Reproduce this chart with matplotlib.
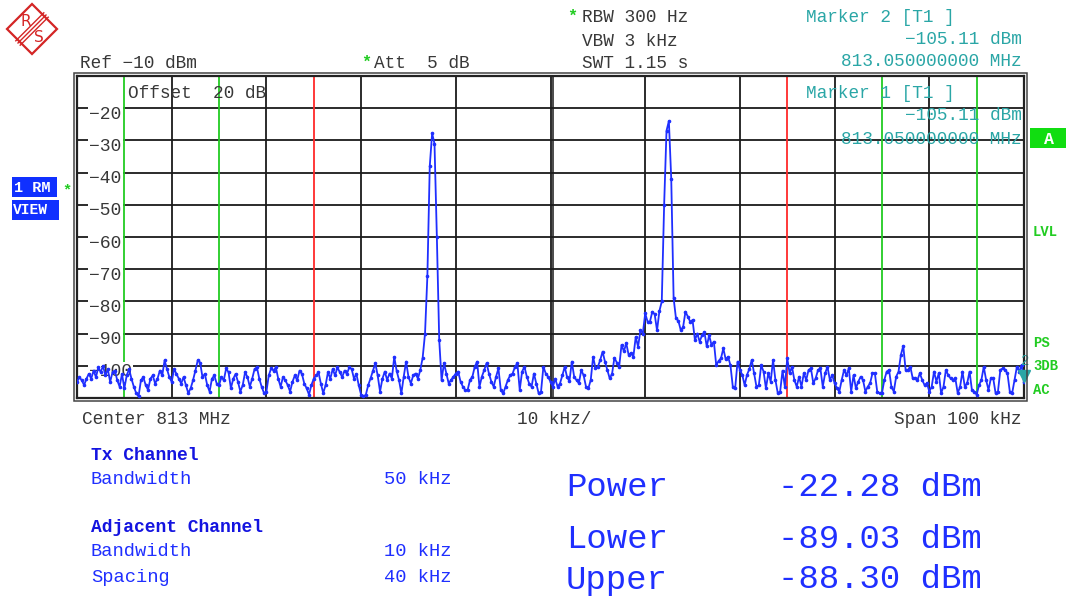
import numpy as np
import matplotlib
matplotlib.use("Agg")
import matplotlib.pyplot as plt
from matplotlib.patches import Rectangle, Polygon
import matplotlib.transforms as mtransforms

# ---------------- data ----------------
center_mhz = 813
span_khz = 100
ref_level_dbm = -10
bottom_level_dbm = -110
offset_db = 20
att_db = 5
rbw_hz = 300
vbw_khz = 3
swt_s = 1.15
tx_bw_khz = 50
adj_bw_khz = 10
adj_spacing_khz = 40
step_khz = 0.25

y_label_levels = [-20, -30, -40, -50, -60, -70, -80, -90, -100]

# trace levels (dBm), 0.25 kHz steps, one block per 10 kHz, block start in kHz offset
block_starts = [-50, -40, -30, -20, -10, 0, 10, 20, 30, 40]
trace_m50 = [-105.0, -103.5, -104.5, -106.0, -104.0, -102.5, -104.0, -101.5, -103.5, -100.5,
             -102.0, -100.0, -103.0, -101.0, -105.0, -102.0, -101.5, -104.5, -106.5, -102.5,
             -107.0, -103.0, -101.0, -104.0, -106.5, -108.5, -109.5, -104.5, -103.5, -106.0,
             -107.5, -104.0, -103.0, -105.5, -104.0, -101.5, -103.0, -98.3, -101.0, -103.5]
trace_m40 = [-105.0, -101.0, -102.5, -104.0, -105.5, -103.5, -106.0, -108.5, -107.0, -104.5,
             -101.5, -98.3, -99.0, -103.5, -102.5, -106.0, -108.0, -104.0, -103.0, -105.5,
             -106.0, -103.5, -104.5, -100.8, -102.0, -107.0, -104.0, -102.5, -105.0, -108.0,
             -106.0, -102.0, -103.5, -106.5, -104.0, -101.0, -100.5, -104.0, -106.5, -108.5]
trace_m30 = [-108.0, -103.0, -100.8, -101.5, -100.5, -104.0, -106.5, -103.5, -104.5, -106.0,
             -108.0, -105.0, -103.0, -104.5, -101.5, -102.5, -105.5, -107.0, -109.0, -106.0,
             -104.0, -103.0, -102.0, -105.5, -108.5, -106.0, -102.0, -104.0, -101.0, -103.0,
             -100.5, -102.0, -103.5, -101.5, -102.5, -100.5, -101.0, -104.0, -102.5, -106.0]
trace_m20 = [-109.0, -109.5, -109.0, -106.0, -103.9, -101.5, -99.2, -103.0, -108.0, -104.0,
             -101.8, -104.4, -102.4, -104.0, -97.2, -101.5, -104.4, -108.6, -103.4, -98.7,
             -103.4, -105.5, -103.0, -102.4, -104.0, -101.3, -97.5, -90.0, -72.0, -38.0,
             -27.8, -31.0, -60.0, -92.0, -104.5, -99.2, -102.4, -105.5, -104.4, -103.4]
trace_m10 = [-102.4, -101.8, -104.9, -106.5, -107.5, -107.5, -104.4, -103.4, -100.3, -98.7,
             -106.5, -103.4, -101.3, -99.2, -102.4, -104.9, -106.5, -103.4, -100.8, -107.5,
             -108.6, -106.5, -104.4, -102.9, -102.4, -100.3, -99.2, -107.5, -101.8, -100.3,
             -103.4, -105.5, -106.5, -102.4, -105.5, -108.6, -108.0, -100.3, -102.4, -103.4]
trace_p00 = [-105.0, -106.5, -104.0, -106.5, -105.5, -103.0, -100.3, -103.5, -104.8, -98.7,
             -103.4, -104.5, -105.4, -101.3, -103.0, -106.5, -107.0, -104.4, -97.2, -100.8,
             -100.3, -98.2, -95.6, -98.7, -101.3, -103.9, -102.5, -97.5, -99.0, -100.3,
             -93.5, -95.5, -93.0, -96.6, -96.0, -97.2, -91.0, -94.1, -88.9, -90.0]
trace_p10 = [-83.7, -86.3, -86.3, -83.2, -84.0, -89.0, -83.0, -80.0, -50.0, -27.0,
             -24.0, -42.0, -79.0, -85.3, -86.0, -88.9, -88.0, -83.2, -84.7, -86.3,
             -85.8, -92.0, -90.0, -92.5, -90.5, -89.5, -94.0, -90.5, -93.5, -92.5,
             -99.8, -98.5, -97.7, -94.6, -98.0, -97.2, -99.8, -106.5, -107.0, -98.7]
trace_p20 = [-101.3, -102.8, -106.0, -102.8, -101.0, -98.2, -102.3, -106.5, -106.0, -99.8,
             -101.8, -107.0, -102.3, -104.9, -98.2, -104.4, -108.5, -108.0, -101.5, -106.5,
             -97.7, -102.3, -100.3, -104.4, -106.5, -103.4, -106.5, -102.3, -104.4, -101.3,
             -100.8, -105.4, -103.9, -101.3, -100.8, -106.5, -102.3, -100.3, -104.4, -102.9]
trace_p30 = [-105.4, -107.0, -108.0, -104.4, -101.3, -102.9, -100.8, -108.0, -102.9, -107.0,
             -104.9, -103.4, -104.4, -108.0, -106.5, -105.4, -102.3, -102.3, -108.0, -108.5,
             -108.5, -104.4, -101.8, -101.3, -106.5, -108.0, -103.4, -101.8, -96.6, -93.8,
             -101.3, -101.3, -100.3, -103.9, -103.9, -104.4, -102.3, -104.4, -106.0, -105.4]
trace_p40 = [-108.0, -106.5, -101.8, -104.9, -102.3, -108.5, -106.5, -101.3, -102.9, -103.9,
             -104.4, -103.9, -108.5, -106.5, -101.8, -106.5, -105.4, -101.8, -107.5, -108.0,
             -109.0, -106.0, -104.4, -100.3, -104.4, -107.5, -103.9, -103.9, -108.5, -108.0,
             -101.3, -100.8, -101.3, -102.3, -108.0, -108.5, -104.4, -100.3, -101.8, -99.7]
trace_end_khz = 50
trace_end_dbm = -105.11

marker_names = ["Marker 2 [T1 ]", "Marker 1 [T1 ]"]
marker_freq_mhz = 813.05
marker_level_dbm = -105.11

tx_power_dbm = -22.28
lower_dbm = -89.03
upper_dbm = -88.30

# ---------------- figure ----------------
W, H = 1068, 599
fig = plt.figure(figsize=(W / 100, H / 100), dpi=100)
fig.patch.set_facecolor("white")

MONO = "Liberation Mono"
GRAY = "#383838"
TEAL = "#2aa6a6"
GREEN = "#22cc22"
BLUE = "#1f2fff"
BLUE_D = "#1414e0"


def P(x, y):
    return (x / W, 1 - y / H)


def ftext(x, y, s, **kw):
    kw.setdefault("va", "center")
    kw.setdefault("family", MONO)
    return fig.text(x / W, 1 - y / H, s, **kw)


L, R, T, B = 77, 1024, 76, 398
ax = fig.add_axes([L / W, 1 - B / H, (R - L) / W, (B - T) / H])
half = span_khz / 2
ax.set_xlim(-half, half)
ax.set_ylim(bottom_level_dbm, ref_level_dbm)
ax.set_xticks(np.arange(-half, half + 1, span_khz / 10))
ax.set_yticks(np.arange(bottom_level_dbm, ref_level_dbm + 1, 10))
ax.tick_params(length=0, labelbottom=False, labelleft=False)
ax.grid(True, color="#1a1a1a", lw=1.3, zorder=1)
ax.set_axisbelow(True)
for sp in ax.spines.values():
    sp.set_linewidth(1.6)
    sp.set_color("#222222")
# double centre line
ax.axvline(0.3, color="#1a1a1a", lw=1.1, zorder=1)
# outer frame line
fig.patches.append(Rectangle(P(L - 3, B + 3), (R - L + 6) / W, (B - T + 6) / H,
                             fill=False, lw=1.1, ec="#444444", transform=fig.transFigure))

# channel limit lines
for s in (-1, 1):
    ax.axvline(s * tx_bw_khz / 2, color="#ff2a2a", lw=1.3, zorder=1.5)
    ax.axvline(s * (adj_spacing_khz - adj_bw_khz / 2), color=GREEN, lw=1.3, zorder=1.5)
    ax.axvline(s * (adj_spacing_khz + adj_bw_khz / 2), color=GREEN, lw=1.3, zorder=1.5)

# level labels inside the grid
blend = mtransforms.blended_transform_factory(ax.transAxes, ax.transData)
for v in y_label_levels:
    ax.text(12 / (R - L), v - 1.9, "\u2212%d" % abs(v), transform=blend, ha="left",
            va="center", family=MONO, fontsize=13, color=GRAY, zorder=2,
            bbox=dict(boxstyle="square,pad=0.08", fc="white", ec="none"))

# trace
blocks = [trace_m50, trace_m40, trace_m30, trace_m20, trace_m10,
          trace_p00, trace_p10, trace_p20, trace_p30, trace_p40]
freqs, levels = [], []
for st, b in zip(block_starts, blocks):
    freqs.extend(st + step_khz * np.arange(len(b)))
    levels.extend(b)
freqs.append(trace_end_khz)
levels.append(trace_end_dbm)
ax.plot(freqs, levels, color=BLUE, lw=1.3, marker="o", ms=1.6, zorder=3)

# marker 2 triangle at the right edge
mk_khz = (marker_freq_mhz - center_mhz) * 1000
off = mtransforms.ScaledTranslation(0, 4.5 / 72, fig.dpi_scale_trans)
ax.plot([mk_khz], [marker_level_dbm], marker="v", ms=8, color=TEAL, zorder=4,
        clip_on=False, transform=ax.transData + off)
ax.annotate("2", xy=(mk_khz, marker_level_dbm), xytext=(1, 15), textcoords="offset points",
            family=MONO, fontsize=10, color=TEAL, ha="center", va="center",
            annotation_clip=False, zorder=4)

# in-grid texts
ftext(128, 94, "Offset  %d dB" % offset_db, fontsize=12.8, color=GRAY)
mk_lines = ["%.2f dBm" % marker_level_dbm, "%.9f MHz" % marker_freq_mhz]
ftext(806, 93, marker_names[1], fontsize=12.8, color=TEAL)
ftext(1022, 116, mk_lines[0].replace("-", "\u2212"), fontsize=12.8, color=TEAL, ha="right")
ftext(1022, 139, mk_lines[1], fontsize=12.8, color=TEAL, ha="right")

# header
ftext(80, 64, "Ref \u2212%d dBm" % abs(ref_level_dbm), fontsize=12.8, color=GRAY)
ftext(366, 62, "*", fontsize=12, color=GREEN, ha="center", weight="bold")
ftext(374, 64, "Att  %d dB" % att_db, fontsize=12.8, color=GRAY)
ftext(572, 16, "*", fontsize=12, color=GREEN, ha="center", weight="bold")
ftext(582, 18, "RBW %d Hz" % rbw_hz, fontsize=12.8, color=GRAY)
ftext(582, 41, "VBW %d kHz" % vbw_khz, fontsize=12.8, color=GRAY)
ftext(582, 63, "SWT %.2f s" % swt_s, fontsize=12.8, color=GRAY)
ftext(806, 17, marker_names[0], fontsize=12.8, color=TEAL)
ftext(1022, 40, mk_lines[0].replace("-", "\u2212"), fontsize=12.8, color=TEAL, ha="right")
ftext(1022, 62, mk_lines[1], fontsize=12.8, color=TEAL, ha="right")

# R&S logo
red = "#d42525"
fig.patches.append(Polygon([P(7, 29), P(32, 4), P(57, 29), P(32, 54)], closed=True,
                           fill=False, ec=red, lw=1.6, transform=fig.transFigure))
for d in (-2.2, 0, 2.2):
    fig.lines.append(plt.Line2D([(18 + d) / W, (46 + d) / W], [1 - (43 + d) / H, 1 - (15 + d) / H],
                                color=red, lw=1.0, transform=fig.transFigure))
ftext(26, 21, "R", fontsize=11, color=red, ha="center", family="DejaVu Sans")
ftext(39, 37, "S", fontsize=11, color=red, ha="center", family="DejaVu Sans")

# left status boxes
r1 = Rectangle(P(12, 197), 45 / W, 20 / H, fc="#1030ff", ec="none", transform=fig.transFigure)
r2 = Rectangle(P(12, 220), 47 / W, 20 / H, fc="#1030ff", ec="none", transform=fig.transFigure)
fig.patches.extend([r1, r2])
t1 = ftext(14, 188, "1 RM", fontsize=11, color="white", weight="bold")
t1.set_clip_path(r1)
t2 = ftext(13, 210, "VIEW", fontsize=10.5, color="white", weight="bold")
t2.set_clip_path(r2)
ftext(67, 190, "*", fontsize=11, color=GREEN, ha="center", weight="bold")

# right status labels
ra = Rectangle(P(1030, 148), 36 / W, 20 / H, fc="#11dd11", ec="none", transform=fig.transFigure)
fig.patches.append(ra)
ftext(1049, 139, "A", fontsize=12, color="white", weight="bold", ha="center")
for yy, s in [(232, "LVL"), (343, "PS"), (366, "3DB"), (390, "AC")]:
    ftext(1033, yy, s, fontsize=10, color=GREEN, weight="bold")

# axis captions
ftext(82, 420, "Center %d MHz" % center_mhz, fontsize=12.8, color=GRAY)
ftext(517, 420, "%d kHz/" % (span_khz // 10), fontsize=12.8, color=GRAY)
ftext(1022, 420, "Span %d kHz" % span_khz, fontsize=12.8, color=GRAY, ha="right")

# channel power table
ftext(91, 455, "Tx Channel", fontsize=13, color=BLUE_D, weight="bold")
ftext(91, 480, "Bandwidth", fontsize=13.5, color=BLUE)
ftext(384, 480, "%d kHz" % tx_bw_khz, fontsize=13.5, color=BLUE)
ftext(91, 528, "Adjacent Channel", fontsize=13, color=BLUE_D, weight="bold")
ftext(91, 552, "Bandwidth", fontsize=13.5, color=BLUE)
ftext(384, 552, "%d kHz" % adj_bw_khz, fontsize=13.5, color=BLUE)
ftext(91, 577, "Spacing", fontsize=13.5, color=BLUE)
ftext(384, 577, "%d kHz" % adj_spacing_khz, fontsize=13.5, color=BLUE)

for yy, name, val in [(487, "Power", tx_power_dbm), (540, "Lower", lower_dbm),
                      (580, "Upper", upper_dbm)]:
    ftext(566, yy, name, fontsize=24.5, color=BLUE)
    ftext(778, yy, "%.2f dBm" % val, fontsize=24.5, color=BLUE)

fig.savefig("out.png", dpi=100)
